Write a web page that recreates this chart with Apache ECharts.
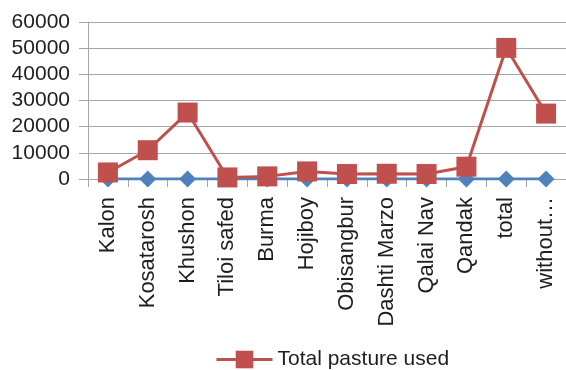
<!DOCTYPE html>
<html>
<head>
<meta charset="utf-8">
<script src="https://cdn.jsdelivr.net/npm/echarts@6/dist/echarts.min.js"></script>
<style>
  html, body { margin: 0; padding: 0; background: #fff; }
  #chart { width: 566px; height: 370px; }
</style>
</head>
<body>
<div id="chart"></div>
<script>
// Villages along the x axis
const categories = ['Kalon', 'Kosatarosh', 'Khushon', 'Tiloi safed', 'Burma', 'Hojiboy',
  'Obisangbur', 'Dashti Marzo', 'Qalai Nav', 'Qandak', 'total', 'without…'];

// Blue series (kept out of the legend)
const baseSeries = [0, 0, 0, 0, 0, 0, 0, 0, 0, 0, 0, 0];

// Total pasture used
const pastureUsed = [2500, 11000, 25400, 600, 1000, 2900, 1900, 2000, 1900, 4700, 50100, 25000];

// Y axis range and step
const yMin = 0, yMax = 60000, yStep = 10000;

const chart = echarts.init(document.getElementById('chart'));
const font = 'Liberation Sans, Arial, sans-serif';

chart.setOption({
  animation: false,
  grid: { left: 88, top: 22, width: 480, bottom: 191, containLabel: false },
  xAxis: {
    type: 'category',
    data: categories,
    boundaryGap: true,
    axisLine: { lineStyle: { color: '#a6a6a6', width: 1 } },
    axisTick: { show: true, alignWithLabel: false, length: 8, lineStyle: { color: '#a6a6a6' } },
    axisLabel: {
      rotate: 90, interval: 0, margin: 18,
      color: '#1e1e1e', fontFamily: font, fontSize: 22
    }
  },
  yAxis: {
    type: 'value',
    min: yMin, max: yMax, interval: yStep,
    axisLine: { show: true, lineStyle: { color: '#a6a6a6' } },
    axisTick: { show: true, length: 9, lineStyle: { color: '#a6a6a6' } },
    splitLine: { lineStyle: { color: '#a6a6a6', width: 1 } },
    axisLabel: {
      margin: 18, color: '#1e1e1e', fontFamily: font, fontSize: 21,
      formatter: (v) => String(v)
    }
  },
  legend: {
    data: ['Total pasture used'],
    left: 210, top: 344,
    itemWidth: 56, itemHeight: 22, itemGap: 8,
    lineStyle: { width: 3 },
    textStyle: { color: '#1e1e1e', fontFamily: font, fontSize: 21 }
  },
  series: [
    {
      name: 'Pasture area',
      type: 'line',
      data: baseSeries,
      symbol: 'diamond', symbolSize: 17,
      itemStyle: { color: '#4F81BD' },
      lineStyle: { color: '#4F81BD', width: 3 }
    },
    {
      name: 'Total pasture used',
      type: 'line',
      data: pastureUsed,
      symbol: 'rect', symbolSize: 20,
      itemStyle: { color: '#C0504D' },
      lineStyle: { color: '#C0504D', width: 3 }
    }
  ]
});
</script>
</body>
</html>
